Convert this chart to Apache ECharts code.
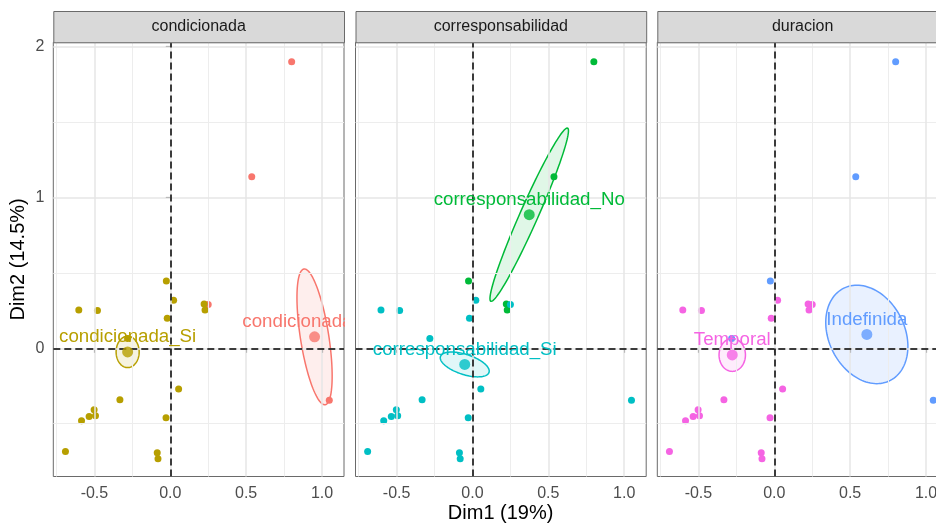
<!DOCTYPE html>
<html><head><meta charset="utf-8">
<script src="https://cdn.jsdelivr.net/npm/echarts@6/dist/echarts.min.js"></script>
<style>html,body{margin:0;padding:0;background:#fff}#c{width:936px;height:526px}</style>
</head><body><div id="c"></div>
<script>
// ---------- data ----------
const panels = ['condicionada', 'corresponsabilidad', 'duracion'];
const indX = [0.80, 0.537, 0.25, 1.048, -0.026, 0.022, -0.02, 0.223, 0.229, -0.603, -0.48, -0.281, 0.055, -0.332, -0.502, -0.535, -0.493, -0.585, -0.028, -0.691, -0.086, -0.081];
const indY = [1.90, 1.137, 0.29, -0.345, 0.446, 0.319, 0.199, 0.294, 0.254, 0.254, 0.25, 0.065, -0.27, -0.341, -0.408, -0.452, -0.448, -0.481, -0.461, -0.684, -0.693, -0.733];
const condGroup = ['No','No','No','No','Si','Si','Si','Si','Si','Si','Si','Si','Si','Si','Si','Si','Si','Si','Si','Si','Si','Si'];
const corrGroup = ['No','No','Si','Si','No','Si','Si','No','No','Si','Si','Si','Si','Si','Si','Si','Si','Si','Si','Si','Si','Si'];
const durGroup = ['Indefinida','Indefinida','Temporal','Indefinida','Indefinida','Temporal','Temporal','Temporal','Temporal','Temporal','Temporal','Indefinida','Temporal','Temporal','Temporal','Temporal','Temporal','Temporal','Temporal','Temporal','Temporal','Temporal'];
const groupKeys = [['No', 'Si'], ['No', 'Si'], ['Indefinida', 'Temporal']];
const groupLabels = [['condicionada_No', 'condicionada_Si'], ['corresponsabilidad_No', 'corresponsabilidad_Si'], ['Indefinida', 'Temporal']];
const meanX = [[0.951, -0.281], [0.374, -0.051], [0.610, -0.277]];
const meanY = [[0.076, -0.024], [0.886, -0.107], [0.092, -0.044]];
// ellipse semi-axis vectors (data units)
const ellU = [[[-0.07, 0.45], [0.076, 0]], [[0.253, 0.574], [0.160, -0.0525]], [[0.155, -0.305], [0.087, 0]]];
const ellV = [[[0.0925, 0.0147], [0, 0.104]], [[0.054, -0.025], [-0.0204, -0.0636]], [[-0.222, -0.116], [0, 0.109]]];
const xTicks = [-0.5, 0, 0.5, 1];
const xTickLabels = ['-0.5', '0.0', '0.5', '1.0'];
const yTicks = [0, 1, 2];
const yTickLabels = ['0', '1', '2'];
const xMinor = [-0.75, -0.25, 0.25, 0.75];
const yMinor = [-0.5, 0.5, 1.5];
const xTitle = 'Dim1 (19%)';
const yTitle = 'Dim2 (14.5%)';

// ---------- styling / layout ----------
const colors = [['#F8766D', '#B79F00'], ['#00BA38', '#00BFC4'], ['#619CFF', '#F564E3']];
const fills = [['rgba(248,118,109,0.12)', 'rgba(183,159,0,0.12)'], ['rgba(0,186,56,0.12)', 'rgba(0,191,196,0.12)'], ['rgba(97,156,255,0.14)', 'rgba(245,100,227,0.12)']];
const FONT = '"Liberation Sans", Arial, Helvetica, sans-serif';
const gridLefts = [53.3, 355.5, 657.3];
const gridTop = 42.3, gridW = 290.7, gridH = 434.2, stripTop = 11;
const xMin = -0.771, xMax = 1.145, yMin = -0.850, yMax = 2.029;
const borderColor = '#6a6a6a';
const memberships = [condGroup, corrGroup, durGroup];

const grids = [], xAxes = [], yAxes = [], series = [], graphics = [];

panels.forEach((name, p) => {
  grids.push({left: gridLefts[p], top: gridTop, width: gridW, height: gridH, show: true,
    borderColor: borderColor, borderWidth: 1, backgroundColor: '#fff', containLabel: false, outerBoundsMode: 'none'});
  xAxes.push({type: 'value', gridIndex: p, min: xMin, max: xMax,
    axisLine: {show: false}, splitLine: {show: false},
    axisTick: {show: true, customValues: xTicks, length: 4.5, lineStyle: {color: '#333', width: 1.1}},
    axisLabel: {show: true, customValues: xTicks, margin: 9, color: '#4D4D4D', fontSize: 16, fontFamily: FONT,
      formatter: v => { const i = xTicks.findIndex(t => Math.abs(t - v) < 1e-9); return i >= 0 ? xTickLabels[i] : ''; }}});
  yAxes.push({type: 'value', gridIndex: p, min: yMin, max: yMax,
    axisLine: {show: false}, splitLine: {show: false},
    axisTick: {show: p === 0, customValues: yTicks, length: 4.5, lineStyle: {color: '#333', width: 1.1}},
    axisLabel: {show: p === 0, customValues: yTicks, margin: 9, color: '#4D4D4D', fontSize: 16, fontFamily: FONT,
      formatter: v => { const i = yTicks.findIndex(t => Math.abs(t - v) < 1e-9); return i >= 0 ? yTickLabels[i] : ''; }}});

  // grid lines
  series.push({type: 'scatter', xAxisIndex: p, yAxisIndex: p, data: [], silent: true, z: 1,
    markLine: {silent: true, symbol: ['none', 'none'], label: {show: false}, animation: false,
      data: [
        ...xMinor.map(v => ({xAxis: v, lineStyle: {color: '#EDEDED', width: 1, type: 'solid'}})),
        ...yMinor.map(v => ({yAxis: v, lineStyle: {color: '#EDEDED', width: 1, type: 'solid'}})),
        ...xTicks.map(v => ({xAxis: v, lineStyle: {color: '#E6E6E6', width: 1.5, type: 'solid'}})),
        ...yTicks.map(v => ({yAxis: v, lineStyle: {color: '#E6E6E6', width: 1.5, type: 'solid'}}))
      ]}});

  // individuals
  groupKeys[p].forEach((g, gi) => {
    const pts = [];
    indX.forEach((x, i) => { if (memberships[p][i] === g) pts.push([x, indY[i]]); });
    series.push({type: 'scatter', xAxisIndex: p, yAxisIndex: p, data: pts, symbolSize: 7, z: 3,
      itemStyle: {color: colors[p][gi], opacity: 1}, silent: true, animation: false});
  });

  // ellipses
  groupKeys[p].forEach((g, gi) => {
    series.push({type: 'custom', xAxisIndex: p, yAxisIndex: p, clip: true, z: 4, silent: true, animation: false,
      data: [[meanX[p][gi], meanY[p][gi], ellU[p][gi][0], ellU[p][gi][1], ellV[p][gi][0], ellV[p][gi][1]]],
      renderItem: (params, api) => {
        const cx = api.value(0), cy = api.value(1), ux = api.value(2), uy = api.value(3), vx = api.value(4), vy = api.value(5);
        const pts = [];
        for (let k = 0; k < 120; k++) {
          const t = 2 * Math.PI * k / 120;
          pts.push(api.coord([cx + ux * Math.cos(t) + vx * Math.sin(t), cy + uy * Math.cos(t) + vy * Math.sin(t)]));
        }
        return {type: 'polygon', shape: {points: pts}, style: {fill: fills[p][gi], stroke: colors[p][gi], lineWidth: 1.5}};
      }});
  });

  // means
  groupKeys[p].forEach((g, gi) => {
    series.push({type: 'scatter', xAxisIndex: p, yAxisIndex: p, data: [[meanX[p][gi], meanY[p][gi]]], symbolSize: 11, z: 5,
      itemStyle: {color: colors[p][gi]}, silent: true, animation: false});
  });

  // labels (clipped to panel)
  groupKeys[p].forEach((g, gi) => {
    series.push({type: 'custom', xAxisIndex: p, yAxisIndex: p, clip: true, z: 6, silent: true, animation: false,
      data: [[meanX[p][gi], meanY[p][gi]]],
      renderItem: (params, api) => {
        const c = api.coord([api.value(0), api.value(1)]);
        return {type: 'text', x: c[0], y: c[1] - 15,
          style: {text: groupLabels[p][gi], fill: colors[p][gi], fontSize: 18.7, fontFamily: FONT, align: 'center', verticalAlign: 'middle'}};
      }});
  });

  // zero reference lines on top
  series.push({type: 'scatter', xAxisIndex: p, yAxisIndex: p, data: [], silent: true, z: 8,
    markLine: {silent: true, symbol: ['none', 'none'], label: {show: false}, animation: false,
      lineStyle: {color: '#000', width: 1.5, type: [7, 4]},
      data: [{xAxis: 0}, {yAxis: 0}]}});

  // strip
  graphics.push({type: 'rect', left: gridLefts[p], top: stripTop, z: 10,
    shape: {width: gridW, height: gridTop - stripTop},
    style: {fill: '#D9D9D9', stroke: borderColor, lineWidth: 1}});
  graphics.push({type: 'text', z: 11, x: gridLefts[p] + gridW / 2, y: (stripTop + gridTop) / 2,
    style: {text: name, fill: '#1A1A1A', fontSize: 16, fontFamily: FONT, align: 'center', verticalAlign: 'middle'}});
});

graphics.push({type: 'text', z: 11, x: (gridLefts[0] + gridLefts[2] + gridW) / 2, y: 513,
  style: {text: xTitle, fill: '#000', fontSize: 20, fontFamily: FONT, align: 'center', verticalAlign: 'middle'}});
graphics.push({type: 'text', z: 11, x: 18.5, y: gridTop + gridH / 2, rotation: Math.PI / 2,
  style: {text: yTitle, fill: '#000', fontSize: 20, fontFamily: FONT, align: 'center', verticalAlign: 'middle'}});

const chart = echarts.init(document.getElementById('c'), null, {renderer: 'canvas'});
chart.setOption({
  animation: false,
  backgroundColor: '#fff',
  grid: grids, xAxis: xAxes, yAxis: yAxes, series: series, graphic: graphics
});
</script>
</body></html>
